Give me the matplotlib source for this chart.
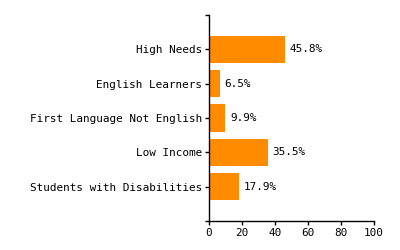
import matplotlib
matplotlib.use("Agg")
import matplotlib.pyplot as plt

categories = ["High Needs", "English Learners", "First Language Not English",
              "Low Income", "Students with Disabilities"]
values = [45.8, 6.5, 9.9, 35.5, 17.9]
xticks = [0, 20, 40, 60, 80, 100]

fig = plt.figure(figsize=(4, 2.5), dpi=100)
ax = fig.add_axes([209/400, 1-221/250, 165/400, 206/250])
fam = "DejaVu Sans Mono"
fs = 7.9
pos = list(range(1, len(categories)+1))
ax.barh(pos, values, height=0.8, color="#FF8C00")
for p, v in zip(pos, values):
    ax.text(v + 3, p, f"{v}%", va="center", ha="left", fontsize=fs, family=fam)
ax.set_ylim(6, 0)
ax.set_xlim(0, 100)
ax.set_yticks([0] + pos + [6])
ax.set_yticklabels([""] + categories + [""], fontsize=fs, family=fam)
ax.set_xticks(xticks)
ax.set_xticklabels([str(t) for t in xticks], fontsize=fs, family=fam)
for s in ["top", "right"]:
    ax.spines[s].set_visible(False)
ax.spines["left"].set_linewidth(1)
ax.spines["bottom"].set_linewidth(1)
ax.tick_params(length=3, width=1, pad=2)
fig.savefig("out.png", dpi=100)
